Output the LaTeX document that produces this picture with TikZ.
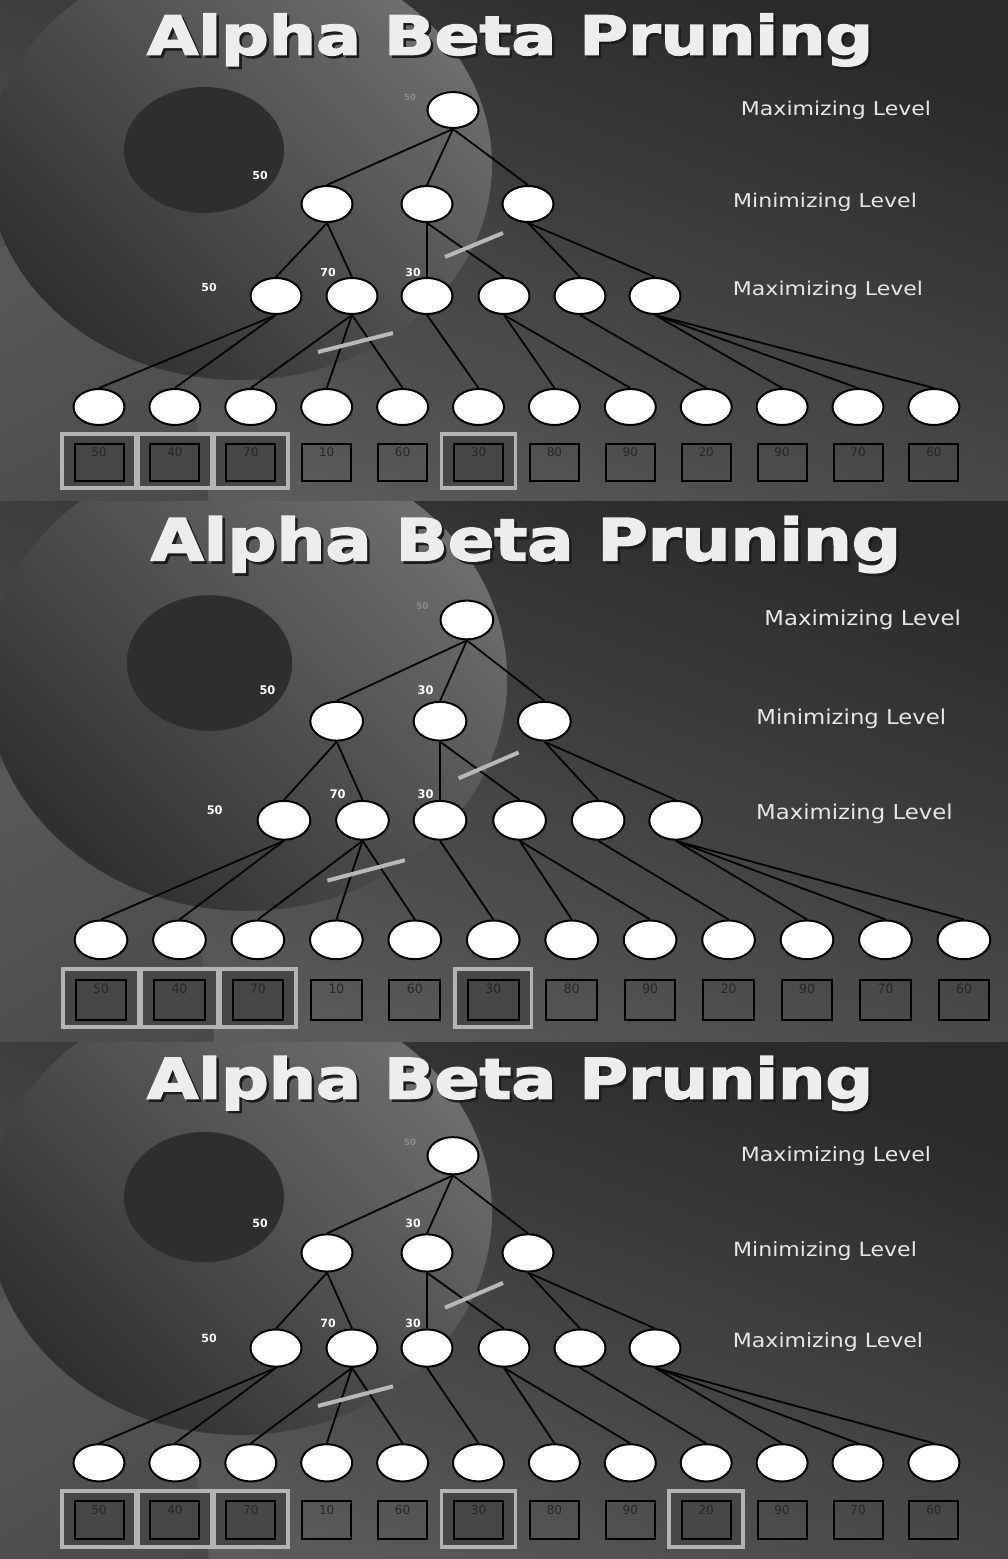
\documentclass[tikz,border=0pt]{standalone}
\usepackage{fontspec}
\setmainfont{DejaVu Sans}
\newfontfamily\titlefont{DejaVu Sans}[BoldFeatures={FakeBold=2.5}]
\usepackage{tikz}
\usetikzlibrary{shapes.geometric}

\definecolor{bgtop}{HTML}{2A2A2A}
\definecolor{bgbot}{HTML}{5C5C5C}
\definecolor{diskdark}{HTML}{2F2F2F}
\definecolor{disklight}{HTML}{6E6E6E}
\definecolor{holecol}{HTML}{2E2E2E}
\definecolor{lobelight}{HTML}{585858}
\definecolor{lobedark}{HTML}{404040}
\definecolor{titlecol}{HTML}{EDEDED}
\definecolor{titleshade}{HTML}{1C1C1C}
\definecolor{levelcol}{HTML}{E6E6E6}
\definecolor{cutcol}{HTML}{B8B8B8}
\definecolor{framecol}{HTML}{B4B4B4}
\definecolor{framefill}{HTML}{474747}

\tikzset{
  state/.style={ellipse, draw=black, line width=2pt, fill=white,
    minimum width=51pt, minimum height=36pt, inner sep=0pt},
  edge/.style={line width=1.8pt},
  valbox/.style={rectangle, draw=black, line width=2pt,
    minimum width=49pt, minimum height=37pt, inner sep=0pt},
  valtxt/.style={anchor=north, inner sep=4.5pt,
    font=\fontsize{12}{12}\selectfont, text=black!85},
  hlframe/.style={rectangle, draw=framecol, line width=3.8pt, fill=framefill,
    minimum width=74pt, minimum height=54pt},
  cut/.style={draw=cutcol, line width=4pt},
  numlbl/.style={font=\fontsize{11}{11}\selectfont\bfseries, text=white},
  rootlbl/.style={font=\fontsize{8.5}{8.5}\selectfont\bfseries, text=black!45},
  levellbl/.style={font=\fontsize{19}{19}\selectfont, text=levelcol},
  titletxt/.style={font=\fontsize{54}{54}\titlefont\bfseries, text=titlecol},
}

% #1 prefix, #2 shift, #3 xscale, #4 yscale, #5 framed leaves, #6 label 30 on min node
\newcommand{\prunepanel}[6]{%
\begin{scope}[shift={#2}, xscale=#3, yscale=#4, transform shape, name prefix=#1-]
  \begin{scope}
    \clip (0,0) rectangle (1012,502);
    \shade[top color=bgtop, bottom color=bgbot, shading angle=-20] (0,0) rectangle (1012,502);
    \shade[top color=lobelight, bottom color=lobedark, shading angle=30] (40,540) ellipse [x radius=170, y radius=300];
    \shade[top color=disklight, bottom color=diskdark, shading angle=-45] (240,165) ellipse [x radius=252, y radius=215];
    \fill[holecol] (204,150) ellipse [x radius=80, y radius=63];
  \end{scope}

  \node[titletxt, text=titleshade] (tshadow) at (512.5,42.5) {\scalebox{1.23}[1]{Alpha Beta Pruning}};
  \node[titletxt] (title) at (510,40) {\scalebox{1.23}[1]{Alpha Beta Pruning}};

  \node[levellbl] (lev1) at (836,110) {\scalebox{1.16}[1]{Maximizing Level}};
  \node[levellbl] (lev2) at (825,202) {\scalebox{1.16}[1]{Minimizing Level}};
  \node[levellbl] (lev3) at (828,290) {\scalebox{1.16}[1]{Maximizing Level}};

  \node[state] (root) at (453,110) {};
  \foreach \i/\x in {1/327,2/427,3/528}
    \node[state] (m\i) at (\x,204) {};
  \foreach \i/\x in {1/276,2/352,3/427,4/504,5/580,6/655}
    \node[state] (n\i) at (\x,296) {};

  \foreach \k in {#5}
    \node[hlframe] (f\k) at ({99+75.9*(\k-1)},461) {};
  \foreach \v [count=\i] in {50,40,70,10,60,30,80,90,20,90,70,60} {
    \pgfmathsetmacro\x{99+75.9*(\i-1)}
    \node[state] (t\i) at (\x,407) {};
    \node[valbox, label={[valtxt]north:\v}] (v\i) at (\x,462.5) {};
  }

  \foreach \c in {1,2,3}
    \draw[edge] (root.south) -- (m\c.north);
  \foreach \p/\c in {1/1,1/2,2/3,2/4,3/5,3/6}
    \draw[edge] (m\p.south) -- (n\c.north);
  \foreach \p/\c in {1/1,1/2,2/3,2/4,2/5,3/6,4/7,4/8,5/9,6/10,6/11,6/12}
    \draw[edge] (n\p.south) -- (t\c.north);

  \draw[cut] (445,257) -- (503,233);
  \draw[cut] (318,352) -- (393,333);

  \node[rootlbl] (lbl0) at (410,97) {50};
  \node[numlbl] (lbl1) at (260,175) {50};
  \ifnum#6=1 \node[numlbl] (lbl2) at (413,175) {30};\fi
  \node[numlbl] (lbl3) at (209,287) {50};
  \node[numlbl] (lbl4) at (328,272) {70};
  \node[numlbl] (lbl5) at (413,272) {30};
\end{scope}}

\begin{document}
\begin{tikzpicture}[x=1pt, y=-1pt]
  \useasboundingbox (0,0) rectangle (1008,1559);
  \prunepanel{p1}{(0,0)}{1}{1}{1,2,3,6}{0}
  \prunepanel{p2}{(-1.3,501.5)}{1.0335}{1.077}{1,2,3,6}{1}
  \prunepanel{p3}{(0,1042)}{1}{1.034}{1,2,3,6,9}{1}
\end{tikzpicture}
\end{document}
